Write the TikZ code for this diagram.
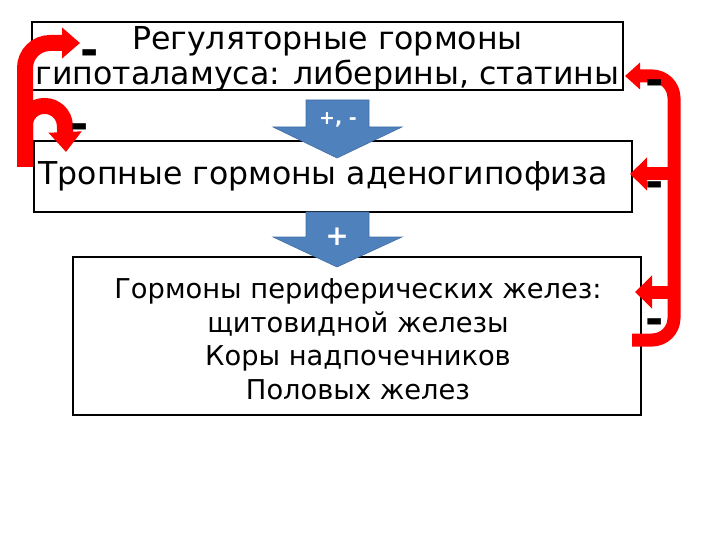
\documentclass[tikz,border=0pt]{standalone}
\usepackage{fontspec}
\setmainfont{DejaVu Sans}
\usetikzlibrary{arrows.meta}
\definecolor{arrowblue}{RGB}{79,129,189}

\begin{document}
\begin{tikzpicture}[x=1pt, y=-1pt,
	box/.style={draw, line width=1.2pt, inner sep=0pt},
	blockarrow/.style={fill=arrowblue, draw=arrowblue!85!black, line width=.6pt},
	fb/.style={draw=red, line width=16pt, -{Triangle[length=18pt, width=30pt]}},
	fbr/.style={draw=red, line width=13pt, -{Triangle[length=17pt, width=32pt]}},
	minus/.style={inner sep=0pt, text height=0pt, text depth=0pt, font=\bfseries\fontsize{44}{44}\selectfont}]
		\useasboundingbox (0, 0) rectangle (720, 540);
		% the three levels
		\node [box, minimum width=591pt, minimum height=68pt] (hyp) at (327.5, 56) {};
		\node [font=\fontsize{31.6}{35}\selectfont, align=center, inner sep=0pt] (hyptext) at (327.5, 58.5) {Регуляторные гормоны\\гипоталамуса: либерины, статины};
		\node [box, minimum width=598pt, minimum height=71pt] (adeno) at (333, 176.5) {};
		\node [font=\fontsize{31.5}{36}\selectfont, inner sep=0pt] (adenotext) at (323, 176.5) {Тропные гормоны аденогипофиза};
		\node [box, minimum width=568pt, minimum height=158pt] (periph) at (357, 336) {};
		\node [font=\fontsize{27.3}{33.5}\selectfont, align=center, inner sep=0pt] (periphtext) at (358, 339) {Гормоны периферических желез:\\щитовидной железы\\Коры надпочечников\\Половых желез};
		% blue block arrows
		\filldraw [blockarrow] (306, 100) -- (369, 100) -- (369, 127) -- (402, 127) -- (337, 158) -- (273, 127) -- (306, 127) -- cycle;
		\filldraw [blockarrow] (306, 212) -- (369, 212) -- (369, 237) -- (402, 237) -- (337, 267) -- (273, 237) -- (306, 237) -- cycle;
		\node [white, font=\bfseries\fontsize{19}{19}\selectfont] (sign1) at (338, 120) {+, -};
		\node [white, font=\bfseries\fontsize{28}{28}\selectfont] (sign2) at (337, 237) {+};
		% feedback on the left
		\coordinate (lbot) at (25, 167);
		\coordinate (lhook) at (25, 140);
		\draw [fb, rounded corners=25pt] (lbot) -- (25, 43) -- (80, 43);
		\draw [fb, rounded corners=19pt, -{Triangle[length=20pt, width=32pt]}] (lhook) -- (25, 106) -- (64, 106) -- (66, 152);
		% feedback on the right
		\coordinate (rbot) at (632, 340);
		\draw [fbr, rounded corners=22pt, -{Triangle[length=15pt, width=26pt]}] (rbot) -- (674, 340) -- (674, 76) -- (625, 76);
		\draw [fbr] (674, 174) -- (630, 174);
		\draw [fbr] (674, 292) -- (635, 292);
		% minus signs
		\node [minus] (m1) at (90, 66) {-};
		\node [minus] (m2) at (80, 140) {-};
		\node [minus] (m3) at (655, 95.5) {-};
		\node [minus] (m4) at (655, 197) {-};
		\node [minus] (m5) at (655, 334.5) {-};
	\end{tikzpicture}
\end{document}
